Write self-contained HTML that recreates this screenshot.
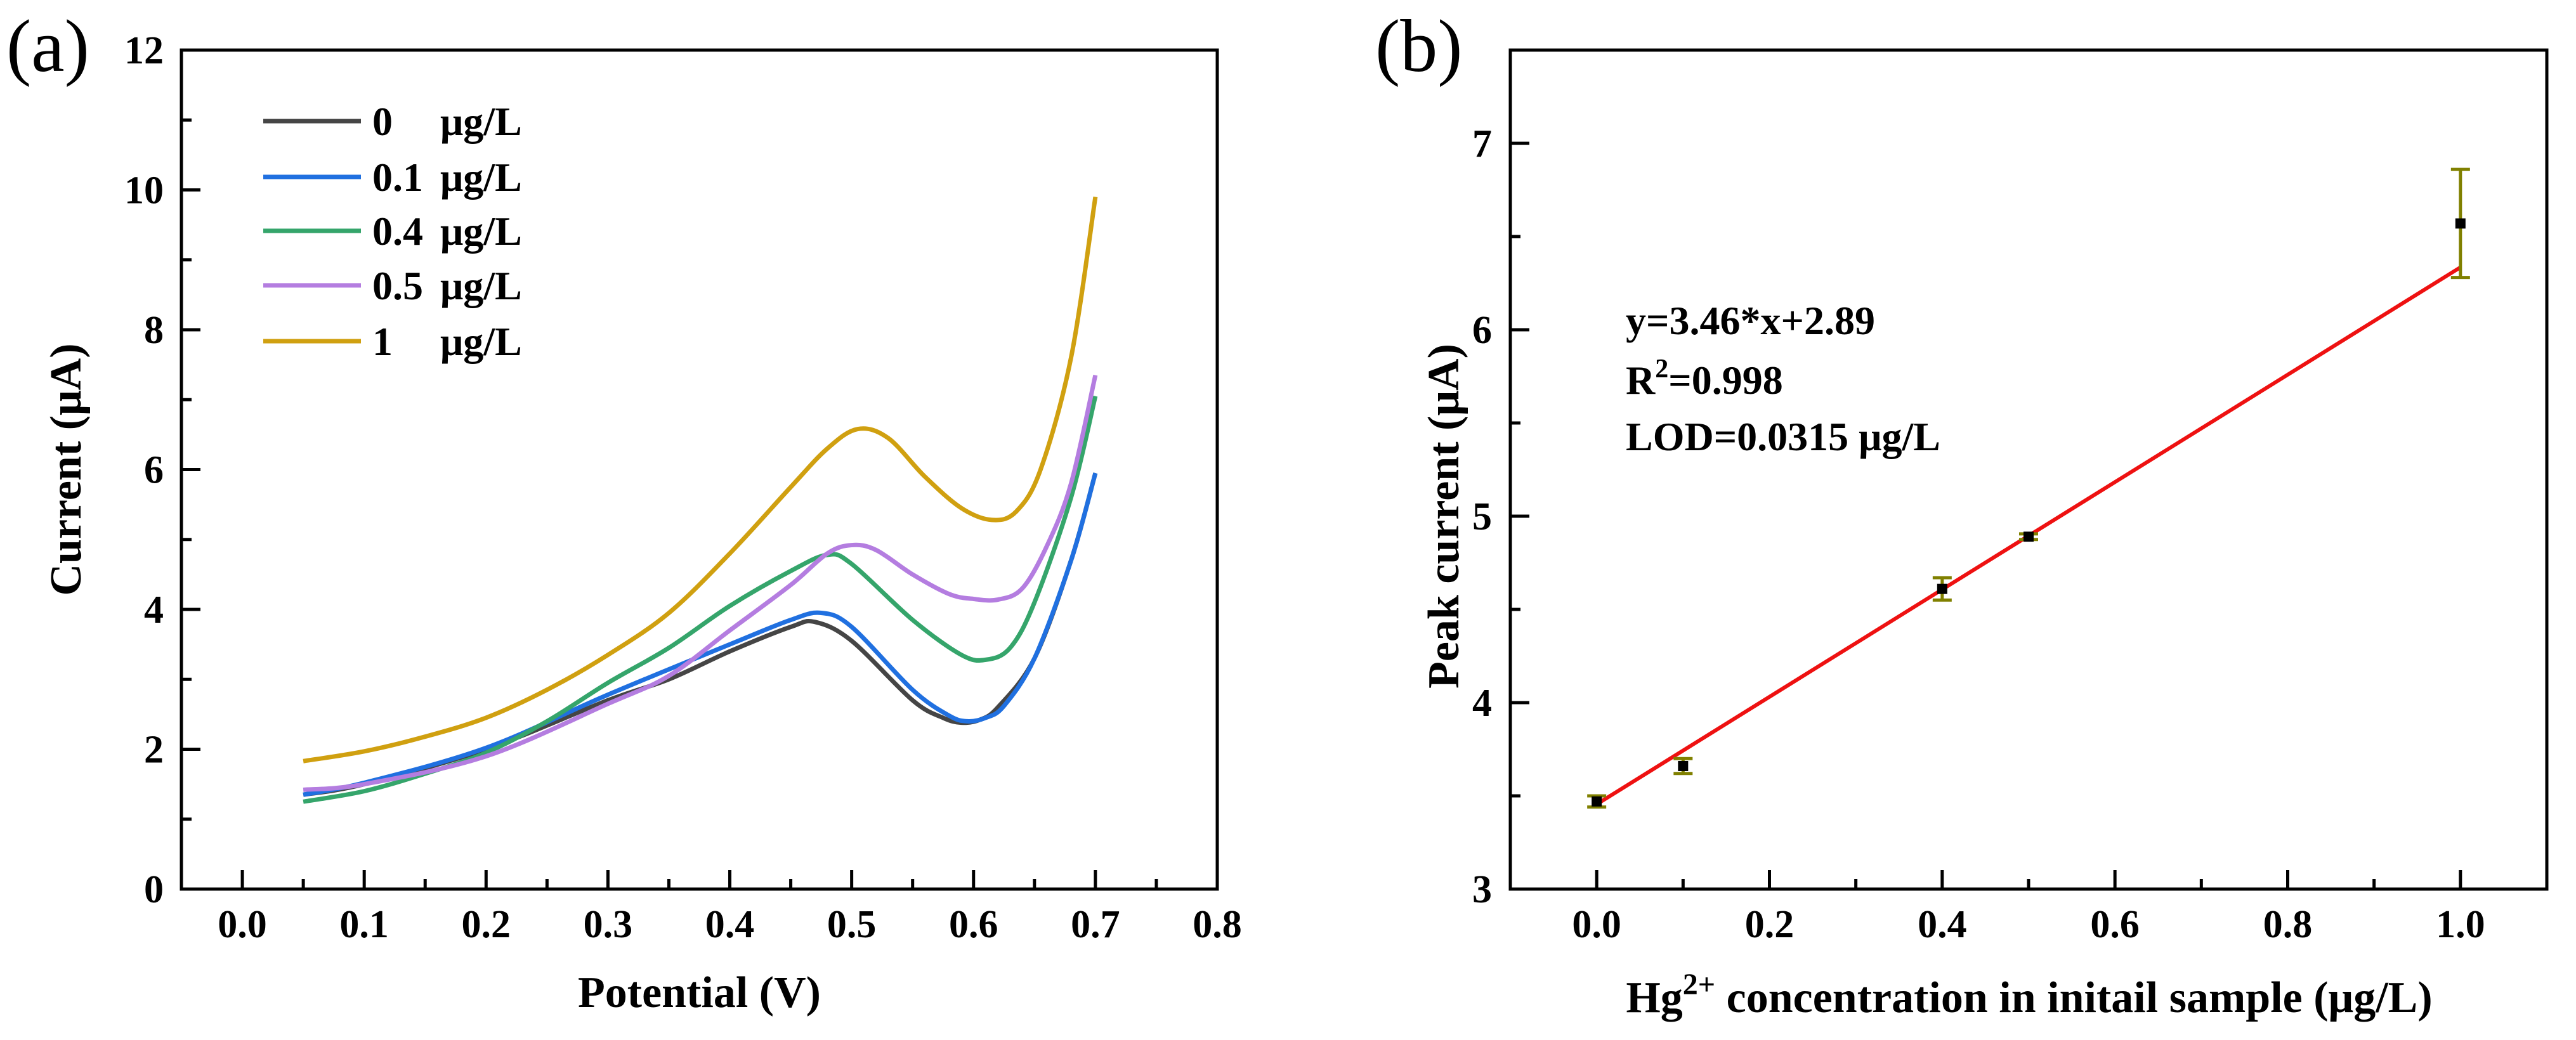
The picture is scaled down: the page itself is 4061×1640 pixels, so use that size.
<!DOCTYPE html>
<html><head><meta charset="utf-8"><style>
html,body{margin:0;padding:0;background:#fff;}
svg{display:block;font-family:"Liberation Serif","Times New Roman",serif;}
</style></head><body>
<svg id="fig" width="4061" height="1640" viewBox="0 0 4061 1640" xmlns="http://www.w3.org/2000/svg"></svg>
<script>
// ---- Panel (a) data ----
const aSeriesNames = ["0", "0.1", "0.4", "0.5", "1"];
const aColors = ["#454545", "#2070e0", "#35a56b", "#b47de0", "#d0a010"];
const aX0 = [0.05,0.1,0.2,0.3,0.35,0.4,0.45,0.47,0.5,0.55,0.575,0.59,0.605,0.62,0.65,0.68,0.7];
const aY0 = [1.35,1.5,2.0,2.7,3.0,3.4,3.75,3.82,3.55,2.7,2.45,2.38,2.42,2.6,3.3,4.7,5.95];
const aX1 = [0.05,0.1,0.2,0.3,0.4,0.45,0.475,0.5,0.55,0.58,0.595,0.61,0.625,0.65,0.68,0.7];
const aY1 = [1.35,1.52,2.02,2.78,3.5,3.85,3.95,3.75,2.85,2.48,2.4,2.45,2.62,3.3,4.7,5.95];
const aX2 = [0.05,0.1,0.15,0.2,0.25,0.3,0.35,0.4,0.45,0.48,0.5,0.55,0.59,0.61,0.63,0.65,0.68,0.7];
const aY2 = [1.25,1.4,1.65,1.95,2.4,2.95,3.45,4.05,4.55,4.78,4.65,3.85,3.35,3.28,3.45,4.1,5.6,7.05];
const aX3 = [0.05,0.1,0.2,0.3,0.35,0.4,0.45,0.48,0.5,0.52,0.55,0.58,0.6,0.62,0.64,0.66,0.68,0.7];
const aY3 = [1.42,1.5,1.9,2.65,3.05,3.7,4.35,4.8,4.92,4.85,4.5,4.22,4.15,4.14,4.3,4.9,5.8,7.35];
const aX4 = [0.05,0.1,0.15,0.2,0.25,0.3,0.35,0.4,0.45,0.48,0.505,0.53,0.56,0.59,0.615,0.635,0.655,0.68,0.7];
const aY4 = [1.83,1.97,2.18,2.45,2.85,3.35,3.95,4.8,5.75,6.3,6.58,6.45,5.9,5.45,5.28,5.4,6.0,7.6,9.9];
const aXTicks = ["0.0","0.1","0.2","0.3","0.4","0.5","0.6","0.7","0.8"];
const aYTicks = ["0","2","4","6","8","10","12"];
// ---- Panel (b) data ----
const bX = [0, 0.1, 0.4, 0.5, 1.0];
const bY = [3.47, 3.66, 4.61, 4.89, 6.57];
const bErr = [0.03, 0.04, 0.06, 0.015, 0.29];
const bFitIntercept = [3.455];
const bFitSlope = [2.88];
const bXTicks = ["0.0","0.2","0.4","0.6","0.8","1.0"];
const bYTicks = ["3","4","5","6","7"];

const NS = "http://www.w3.org/2000/svg";
const svg = document.getElementById("fig");
function mk(tag, attrs, parent, text){
  const e = document.createElementNS(NS, tag);
  for (const k in attrs) e.setAttribute(k, attrs[k]);
  if (text !== undefined) e.textContent = text;
  (parent || svg).appendChild(e);
  return e;
}
function smoothPath(px, py){
  let d = "M" + px[0] + "," + py[0];
  for (let i = 0; i < px.length - 1; i++){
    const x0 = px[Math.max(i-1,0)], y0 = py[Math.max(i-1,0)];
    const x1 = px[i], y1 = py[i], x2 = px[i+1], y2 = py[i+1];
    const x3 = px[Math.min(i+2,px.length-1)], y3 = py[Math.min(i+2,px.length-1)];
    const c1x = x1 + (x2-x0)/6, c1y = y1 + (y2-y0)/6;
    const c2x = x2 - (x3-x1)/6, c2y = y2 - (y3-y1)/6;
    d += " C" + c1x + "," + c1y + " " + c2x + "," + c2y + " " + x2 + "," + y2;
  }
  return d;
}
const TF = 62, TT = 70;

// ===== Panel A =====
const A = {l:286, r:1919, t:79, b:1402, xmin:-0.05, xmax:0.8, ymin:0, ymax:12};
const ax = v => A.l + (v - A.xmin)/(A.xmax - A.xmin)*(A.r - A.l);
const ay = v => A.b - (v - A.ymin)/(A.ymax - A.ymin)*(A.b - A.t);
const gA = mk("g", {});


const lblA = mk("text", {x:10, y:112, "font-size":118}, gA, "(a)");


const frameA = mk("rect", {x:A.l, y:A.t, width:A.r-A.l, height:A.b-A.t, fill:"none", stroke:"#000", "stroke-width":5}, gA);


aXTicks.forEach((t,i)=>{
  const v = parseFloat(t), x = ax(v);
  const tk = mk("line", {x1:x, x2:x, y1:A.b, y2:A.b-30, stroke:"#000", "stroke-width":5}, gA);
  
  
  if (i < aXTicks.length-1){
    const mx = ax(v+0.05);
    const mt = mk("line", {x1:mx, x2:mx, y1:A.b, y2:A.b-16, stroke:"#000", "stroke-width":5}, gA);
    
    
  }
  const tl = mk("text", {x:x, y:1478, "font-size":TF, "font-weight":"bold", "text-anchor":"middle"}, gA, t);
  
  
});
aYTicks.forEach((t,i)=>{
  const v = parseFloat(t), y = ay(v);
  const tk = mk("line", {x1:A.l, x2:A.l+30, y1:y, y2:y, stroke:"#000", "stroke-width":5}, gA);
  
  
  if (i < aYTicks.length-1){
    const my = ay(v+1);
    const mt = mk("line", {x1:A.l, x2:A.l+16, y1:my, y2:my, stroke:"#000", "stroke-width":5}, gA);
    
    
  }
  const tl = mk("text", {x:258, y:y+21, "font-size":TF, "font-weight":"bold", "text-anchor":"end"}, gA, t);
  
  
});
const xtA = mk("text", {x:ax(0.375), y:1588, "font-size":TT, "font-weight":"bold", "text-anchor":"middle"}, gA, "Potential  (V)");


const ytA = mk("text", {x:0, y:0, "font-size":TT, "font-weight":"bold", "text-anchor":"middle", transform:"translate(127,"+ay(6)+") rotate(-90)"}, gA, "Current  (μA)");


const aXs = [aX0,aX1,aX2,aX3,aX4], aYs = [aY0,aY1,aY2,aY3,aY4];
aXs.forEach((xs,s)=>{
  const p = mk("path", {d:smoothPath(xs.map(ax), aYs[s].map(ay)), fill:"none", stroke:aColors[s], "stroke-width":7, "stroke-linejoin":"round"}, gA);
  
  
});
const legRows = [191, 279, 364, 450, 538];
aSeriesNames.forEach((n,s)=>{
  const g = mk("g", {}, gA);
  
  
  mk("line", {x1:415, x2:569, y1:legRows[s], y2:legRows[s], stroke:aColors[s], "stroke-width":7}, g);
  mk("text", {x:587, y:legRows[s]+22, "font-size":64, "font-weight":"bold"}, g, n);
  mk("text", {x:694, y:legRows[s]+22, "font-size":64, "font-weight":"bold"}, g, "μg/L");
});

// ===== Panel B =====
const B = {l:2381, r:4015, t:79, b:1402, xmin:-0.1, xmax:1.1, ymin:3, ymax:7.5};
const bx = v => B.l + (v - B.xmin)/(B.xmax - B.xmin)*(B.r - B.l);
const by = v => B.b - (v - B.ymin)/(B.ymax - B.ymin)*(B.b - B.t);
const gB = mk("g", {});


const lblB = mk("text", {x:2168, y:112, "font-size":118}, gB, "(b)");


const frameB = mk("rect", {x:B.l, y:B.t, width:B.r-B.l, height:B.b-B.t, fill:"none", stroke:"#000", "stroke-width":5}, gB);


bXTicks.forEach((t,i)=>{
  const v = parseFloat(t), x = bx(v);
  const tk = mk("line", {x1:x, x2:x, y1:B.b, y2:B.b-30, stroke:"#000", "stroke-width":5}, gB);
  
  
  if (i < bXTicks.length-1){
    const mx = bx(v+0.1);
    const mt = mk("line", {x1:mx, x2:mx, y1:B.b, y2:B.b-16, stroke:"#000", "stroke-width":5}, gB);
    
    
  }
  const tl = mk("text", {x:x, y:1478, "font-size":TF, "font-weight":"bold", "text-anchor":"middle"}, gB, t);
  
  
});
bYTicks.forEach((t,i)=>{
  const v = parseFloat(t), y = by(v);
  const tk = mk("line", {x1:B.l, x2:B.l+30, y1:y, y2:y, stroke:"#000", "stroke-width":5}, gB);
  
  
  const my = by(v+0.5);
  const mt = mk("line", {x1:B.l, x2:B.l+16, y1:my, y2:my, stroke:"#000", "stroke-width":5}, gB);
  
  
  const tl = mk("text", {x:2352, y:y+21, "font-size":TF, "font-weight":"bold", "text-anchor":"end"}, gB, t);
  
  
});
const xtB = mk("text", {x:3199, y:1596, "font-size":TT, "font-weight":"bold", "text-anchor":"middle"}, gB);


mk("tspan", {}, xtB, "Hg");
mk("tspan", {dy:-28, "font-size":48}, xtB, "2+");
mk("tspan", {dy:28}, xtB, " concentration in initail  sample (μg/L)");
const ytB = mk("text", {x:0, y:0, "font-size":TT, "font-weight":"bold", "text-anchor":"middle", transform:"translate(2299,"+by(5)+") rotate(-90)"}, gB, "Peak current  (μA)");


const fit = mk("line", {x1:bx(0), y1:by(bFitIntercept[0]), x2:bx(1), y2:by(bFitIntercept[0]+bFitSlope[0]*1), stroke:"#ee1111", "stroke-width":6}, gB);


bX.forEach((v,i)=>{
  const x = bx(v), y1 = by(bY[i]+bErr[i]), y2 = by(bY[i]-bErr[i]);
  const g = mk("g", {}, gB);
  
  
  mk("line", {x1:x, x2:x, y1:y1, y2:y2, stroke:"#808000", "stroke-width":5}, g);
  mk("line", {x1:x-15, x2:x+15, y1:y1, y2:y1, stroke:"#808000", "stroke-width":5}, g);
  mk("line", {x1:x-15, x2:x+15, y1:y2, y2:y2, stroke:"#808000", "stroke-width":5}, g);
  const pt = mk("rect", {x:x-8, y:by(bY[i])-8, width:16, height:16, fill:"#000"}, gB);
  
  
});
const ann = mk("g", {}, gB);


mk("text", {x:2563, y:527, "font-size":64, "font-weight":"bold"}, ann, "y=3.46*x+2.89");
const r2 = mk("text", {x:2563, y:621, "font-size":64, "font-weight":"bold"}, ann);
mk("tspan", {}, r2, "R");
mk("tspan", {dy:-26, "font-size":42}, r2, "2");
mk("tspan", {dy:26}, r2, "=0.998");
mk("text", {x:2563, y:710, "font-size":64, "font-weight":"bold"}, ann, "LOD=0.0315 μg/L");
</script>
</body></html>
